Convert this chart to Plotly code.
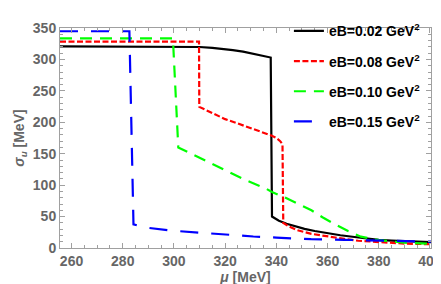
import plotly.graph_objects as go

# eB = 0.02 GeV^2
mu_02 = [255.5, 300, 305, 310, 315, 319, 323, 327, 331, 335, 337.8, 338.3, 341, 344, 347.3, 351, 355, 360, 365, 370.5, 375, 380, 385, 390, 395, 400.4]
sig_02 = [320.8, 320.8, 320.5, 319.8, 318.3, 316.8, 314.8, 312.3, 309, 305.5, 303, 50, 43.5, 38.5, 34.5, 30.5, 27, 23.5, 20.3, 17.5, 15, 13, 11.8, 10.8, 10.2, 9.5]
# eB = 0.08 GeV^2
mu_08 = [255.5, 309.8, 309.9, 315, 320, 325, 330, 335, 338, 340, 341.5, 342.4, 342.7, 345, 348, 353.7, 360, 366.5, 372, 380, 390, 400.4]
sig_08 = [328.3, 328.3, 224.5, 214, 205, 198, 191, 184, 179, 175, 170, 165, 40, 34, 28.5, 22.5, 18, 14.5, 11.5, 9, 7, 6]
# eB = 0.10 GeV^2
mu_10 = [255.5, 299.6, 301.7, 310, 320, 328, 335.7, 338.3, 343.6, 348, 353.7, 358, 362.7, 368, 373, 380, 390, 400.4]
sig_10 = [333.4, 333.4, 160, 144, 124, 108, 95, 89, 80, 71, 60, 49, 38, 27, 18, 12.5, 8.5, 6.5]
# eB = 0.15 GeV^2
mu_15 = [255.5, 282.6, 284.2, 289, 299.4, 311, 322.6, 331, 340, 353.6, 366.5, 380, 390, 400.4]
sig_15 = [344.8, 344.8, 37.5, 32.5, 27.5, 24, 21, 18.3, 16.5, 14, 13, 11.5, 10.5, 10]

names = ["eB=0.02 GeV<sup>2</sup>", "eB=0.08 GeV<sup>2</sup>",
         "eB=0.10 GeV<sup>2</sup>", "eB=0.15 GeV<sup>2</sup>"]
x_ticks = [260, 280, 300, 320, 340, 360, 380, 400]
y_ticks = [0, 50, 100, 150, 200, 250, 300, 350]

series = [(mu_02, sig_02, "#000000", "solid"),
          (mu_08, sig_08, "#FF0000", "6px,2.5px"),
          (mu_10, sig_10, "#00FF00", "12px,8px"),
          (mu_15, sig_15, "#0000FF", "18px,13px")]

fig = go.Figure()
for i, (x, y, c, d) in enumerate(series):
    fig.add_trace(go.Scatter(x=x, y=y, mode="lines", name=names[i],
                             legendgroup=f"g{i}",
                             line=dict(color=c, width=2.2, dash=d)))

FONT = "Liberation Sans, Arial, sans-serif"
GRAY = "#666666"
FRAME = "#A0A0A0"

axis_common = dict(showline=True, linecolor=FRAME, linewidth=1, mirror="ticks",
                   ticks="inside", ticklen=5, tickcolor=FRAME, showgrid=False,
                   zeroline=False,
                   tickfont=dict(family=FONT, size=14, color=GRAY, weight="bold"))

fig.update_layout(
    width=441, height=284,
    margin=dict(l=52, r=13, t=7, b=44),
    plot_bgcolor="white", paper_bgcolor="white",
    showlegend=True,
    legend=dict(x=0.617, y=1.058, xanchor="left", yanchor="top",
                bgcolor="rgba(0,0,0,0)", tracegroupgap=9,
                font=dict(family=FONT, size=14, color="black", weight="bold")),
    xaxis=dict(range=[255.5, 400.4], tickvals=x_ticks,
               minor=dict(dtick=5, ticks="inside", ticklen=3, tickcolor=FRAME),
               title=dict(text="<i>μ</i> [MeV]", standoff=0,
                          font=dict(family=FONT, size=14, color=GRAY, weight="bold")),
               **axis_common),
    yaxis=dict(range=[0, 350], tickvals=y_ticks,
               minor=dict(dtick=10, ticks="inside", ticklen=3, tickcolor=FRAME),
               title=dict(text="<i>σ<sub>u</sub></i> [MeV]", standoff=4,
                          font=dict(family=FONT, size=14, color=GRAY, weight="bold")),
               **axis_common),
)

fig.write_html("out.html")
